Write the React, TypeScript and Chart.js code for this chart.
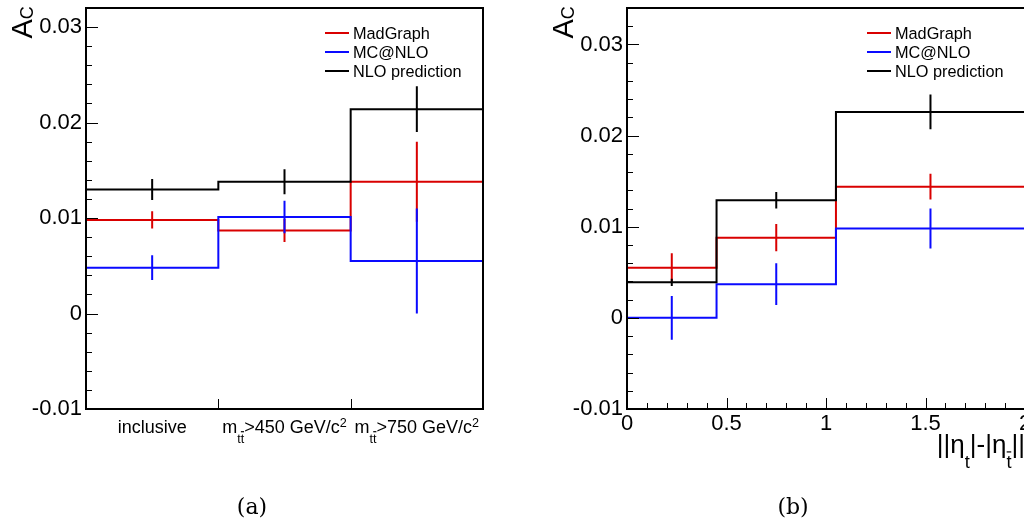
import React, { useEffect, useRef } from 'react';
import { Chart, registerables } from 'chart.js';

Chart.register(...registerables);

const FONT = "'Liberation Sans', Arial, Helvetica, sans-serif";
const SERIF = "'DejaVu Serif', 'Liberation Serif', serif";

// ---------- shared ----------
const seriesNames = ['MadGraph', 'MC@NLO', 'NLO prediction'];
const seriesColors = ['#d90000', '#0a0aff', '#000000'];
const yTitle = 'A_{C}';
const panelLabels = ['(a)', '(b)'];

// ---------- panel (a) ----------
const categoriesA = ['inclusive', 'm_{t#bar{t}}>450 GeV/c^{2}', 'm_{t#bar{t}}>750 GeV/c^{2}'];
const binEdgesA = [0, 1, 2, 3];
const madgraphA = [0.0098, 0.0087, 0.0138];
const madgraphErrA = [0.0009, 0.0012, 0.0042];
const mcatnloA = [0.0048, 0.0101, 0.0055];
const mcatnloErrA = [0.0013, 0.0017, 0.0055];
const nloA = [0.013, 0.0138, 0.0214];
const nloErrA = [0.0011, 0.0013, 0.0024];
const yRangeA = [-0.01, 0.032];
const yTicksA = [-0.01, 0, 0.01, 0.02, 0.03];
const yTickLabelsA = ['-0.01', '0', '0.01', '0.02', '0.03'];

// ---------- panel (b) ----------
const xTitleB = '||η_{t}|-|η_{#bar{t}}||';
const binEdgesB = [0, 0.45, 1.05, 2.0];
const madgraphB = [0.0055, 0.0088, 0.0144];
const madgraphErrB = [0.0016, 0.0015, 0.0014];
const mcatnloB = [0.0, 0.0037, 0.0098];
const mcatnloErrB = [0.0024, 0.0023, 0.0022];
const nloB = [0.0039, 0.0129, 0.0226];
const nloErrB = [0.0004, 0.0009, 0.0019];
const xRangeB = [0, 2.0];
const xTicksB = [0, 0.5, 1, 1.5, 2];
const xTickLabelsB = ['0', '0.5', '1', '1.5', '2'];
const yRangeB = [-0.01, 0.034];
const yTicksB = [-0.01, 0, 0.01, 0.02, 0.03];
const yTickLabelsB = ['-0.01', '0', '0.01', '0.02', '0.03'];

// ---------- tiny ROOT-latex renderer ----------
type Part = { text: string; mode: 'n' | 'sub' | 'sup'; bar: boolean };

function parseLatex(s: string): Part[] {
  const parts: Part[] = [];
  let i = 0;
  let buf = '';
  const flush = () => {
    if (buf) {
      parts.push({ text: buf, mode: 'n', bar: false });
      buf = '';
    }
  };
  while (i < s.length) {
    const ch = s[i];
    if ((ch === '_' || ch === '^') && s[i + 1] === '{') {
      flush();
      let depth = 0;
      let j = i + 1;
      for (; j < s.length; j++) {
        if (s[j] === '{') depth++;
        else if (s[j] === '}') {
          depth--;
          if (depth === 0) break;
        }
      }
      const inner = s.slice(i + 2, j);
      const mode: 'sub' | 'sup' = ch === '_' ? 'sub' : 'sup';
      const re = /#bar\{([^}]*)\}/g;
      let last = 0;
      let m: RegExpExecArray | null;
      while ((m = re.exec(inner))) {
        if (m.index > last) parts.push({ text: inner.slice(last, m.index), mode, bar: false });
        parts.push({ text: m[1], mode, bar: true });
        last = re.lastIndex;
      }
      if (last < inner.length) parts.push({ text: inner.slice(last), mode, bar: false });
      i = j + 1;
    } else {
      buf += ch;
      i++;
    }
  }
  flush();
  return parts;
}

function drawLatex(
  ctx: CanvasRenderingContext2D,
  s: string,
  x: number,
  y: number,
  size: number,
  align: 'left' | 'center' | 'right',
  subShift = 0.55,
  supShift = 0.38,
  scriptScale = 0.7,
  scriptSize?: number
) {
  const parts = parseLatex(s);
  const ss = scriptSize ?? size * scriptScale;
  ctx.textAlign = 'left';
  ctx.textBaseline = 'alphabetic';
  const widths = parts.map((p) => {
    ctx.font = `${p.mode === 'n' ? size : ss}px ${FONT}`;
    return ctx.measureText(p.text).width;
  });
  const total = widths.reduce((a, b) => a + b, 0);
  let cx = align === 'left' ? x : align === 'center' ? x - total / 2 : x - total;
  parts.forEach((p, k) => {
    const fs = p.mode === 'n' ? size : ss;
    const dy = p.mode === 'sub' ? size * subShift : p.mode === 'sup' ? -size * supShift : 0;
    ctx.font = `${fs}px ${FONT}`;
    ctx.fillText(p.text, cx, y + dy);
    if (p.bar) {
      const w = widths[k];
      ctx.beginPath();
      ctx.lineWidth = 1.2;
      ctx.moveTo(cx + w * 0.05, y + dy - fs * 0.86);
      ctx.lineTo(cx + w * 0.95, y + dy - fs * 0.86);
      ctx.stroke();
    }
    cx += widths[k];
  });
}

// ---------- chart builder ----------
type Series = { vals: number[]; errs: number[] };
type PanelCfg = {
  panel: 'a' | 'b';
  edges: number[];
  series: Series[];
  xRange: number[];
  xTicks: number[];
  xTickLabels: string[];
  yRange: number[];
  yTicks: number[];
  yTickLabels: string[];
  chartLeft: number;
  chartRight: number;
  canvasW: number;
  canvasH: number;
  panelLabelX: number;
};

const CHART_TOP = 8;
const CHART_BOTTOM = 409;
const X_AXIS_H = 40;

function makeDecor(cfg: PanelCfg) {
  return {
    id: 'rootDecor' + cfg.panel,
    afterDraw(chart: any) {
      const ctx: CanvasRenderingContext2D = chart.ctx;
      const { left, right, top, bottom } = chart.chartArea;
      const xs = chart.scales.x;
      const ys = chart.scales.y;
      ctx.save();
      ctx.strokeStyle = '#000';
      ctx.fillStyle = '#000';

      // y ticks (major + minor, inside the frame)
      ctx.lineWidth = 1;
      const minorStep = 0.002;
      for (let k = 0; ; k++) {
        const v = cfg.yRange[0] + k * minorStep;
        if (v > cfg.yRange[1] + 1e-9) break;
        const isMajor = cfg.yTicks.some((t) => Math.abs(t - v) < 1e-9);
        const py = Math.round(ys.getPixelForValue(v)) + 0.5;
        ctx.beginPath();
        ctx.moveTo(left, py);
        ctx.lineTo(left + (isMajor ? 12 : 6), py);
        ctx.stroke();
      }

      // x ticks
      if (cfg.panel === 'a') {
        cfg.edges.slice(1, -1).forEach((e) => {
          const px = Math.round(xs.getPixelForValue(e)) + 0.5;
          ctx.beginPath();
          ctx.moveTo(px, bottom);
          ctx.lineTo(px, bottom - 10);
          ctx.stroke();
        });
      } else {
        for (let k = 0; ; k++) {
          const v = cfg.xRange[0] + k * 0.1;
          if (v > cfg.xRange[1] + 1e-9) break;
          const isMajor = cfg.xTicks.some((t) => Math.abs(t - v) < 1e-9);
          const px = Math.round(xs.getPixelForValue(v)) + 0.5;
          ctx.beginPath();
          ctx.moveTo(px, bottom);
          ctx.lineTo(px, bottom - (isMajor ? 11 : 6));
          ctx.stroke();
        }
      }

      // frame
      ctx.lineWidth = 2;
      ctx.strokeRect(left, top, right - left, bottom - top);

      // legend
      seriesNames.forEach((name, i) => {
        const ly = top + 25 + 19 * i;
        ctx.strokeStyle = seriesColors[i];
        ctx.lineWidth = 2;
        ctx.beginPath();
        ctx.moveTo(right - 158, ly);
        ctx.lineTo(right - 134, ly);
        ctx.stroke();
        ctx.fillStyle = '#000';
        ctx.font = `16.3px ${FONT}`;
        ctx.textAlign = 'left';
        ctx.textBaseline = 'alphabetic';
        ctx.fillText(name, right - 130, ly + 6);
      });
      ctx.strokeStyle = '#000';
      ctx.fillStyle = '#000';

      // y-axis title (rotated)
      ctx.save();
      ctx.translate(left - 54.5, 38.5);
      ctx.rotate(-Math.PI / 2);
      drawLatex(ctx, yTitle, 0, 0, 29, 'left', 0.06, 0.38, 0.7, 18);
      ctx.restore();

      // x-axis labels / title
      if (cfg.panel === 'a') {
        categoriesA.forEach((c, k) => {
          const cx = xs.getPixelForValue((cfg.edges[k] + cfg.edges[k + 1]) / 2);
          drawLatex(ctx, c, cx, 433, 18, 'center', 0.53, 0.36);
        });
      } else {
        drawLatex(ctx, xTitleB, right, 452.5, 26, 'right', 0.58, 0.38);
      }

      // panel label
      ctx.font = `22px ${SERIF}`;
      ctx.textAlign = 'center';
      ctx.textBaseline = 'alphabetic';
      ctx.fillText(panelLabels[cfg.panel === 'a' ? 0 : 1], cfg.panelLabelX, 514);

      ctx.restore();
    },
  };
}

function buildChart(canvas: HTMLCanvasElement, cfg: PanelCfg) {
  const datasets: any[] = [];
  cfg.series.forEach((s, i) => {
    const hist = cfg.edges.map((e, k) => ({ x: e, y: s.vals[Math.min(k, s.vals.length - 1)] }));
    datasets.push({
      label: seriesNames[i],
      data: hist,
      stepped: true,
      borderColor: seriesColors[i],
      backgroundColor: seriesColors[i],
      borderWidth: 2,
      pointRadius: 0,
      fill: false,
      tension: 0,
      order: 2 - i,
    });
    const err: any[] = [];
    s.vals.forEach((v, k) => {
      const c = (cfg.edges[k] + cfg.edges[k + 1]) / 2;
      err.push({ x: c, y: v - s.errs[k] }, { x: c, y: v + s.errs[k] }, { x: c, y: null });
    });
    datasets.push({
      label: seriesNames[i] + ' error',
      data: err,
      borderColor: seriesColors[i],
      backgroundColor: seriesColors[i],
      borderWidth: 2,
      pointRadius: 0,
      fill: false,
      spanGaps: false,
      order: 2 - i,
    });
  });

  return new Chart(canvas, {
    type: 'line',
    data: { datasets },
    options: {
      responsive: false,
      animation: false,
      events: [],
      layout: {
        padding: {
          left: 0,
          top: CHART_TOP,
          right: cfg.canvasW - cfg.chartRight,
          bottom: cfg.canvasH - CHART_BOTTOM - X_AXIS_H,
        },
      },
      plugins: { legend: { display: false }, tooltip: { enabled: false } },
      scales: {
        x: {
          type: 'linear',
          min: cfg.xRange[0],
          max: cfg.xRange[1],
          grid: { display: false, drawTicks: false },
          border: { display: false },
          ticks: {
            display: cfg.panel === 'b',
            color: '#000',
            font: { family: FONT, size: 22 },
            padding: 2,
            autoSkip: false,
            maxRotation: 0,
            callback: (_v: any, idx: number) => cfg.xTickLabels[idx],
          },
          afterBuildTicks: (sc: any) => {
            sc.ticks = cfg.xTicks.map((v) => ({ value: v }));
          },
          afterFit: (sc: any) => {
            sc.height = X_AXIS_H;
            sc.paddingLeft = 0;
            sc.paddingRight = 0;
          },
        },
        y: {
          type: 'linear',
          min: cfg.yRange[0],
          max: cfg.yRange[1],
          grid: { display: false, drawTicks: false },
          border: { display: false },
          ticks: {
            color: '#000',
            font: { family: FONT, size: 22 },
            padding: 4,
            autoSkip: false,
            callback: (_v: any, idx: number) => cfg.yTickLabels[idx],
          },
          afterBuildTicks: (sc: any) => {
            sc.ticks = cfg.yTicks.map((v) => ({ value: v }));
          },
          afterFit: (sc: any) => {
            sc.width = cfg.chartLeft;
            sc.paddingTop = 0;
            sc.paddingBottom = 0;
          },
        },
      },
    },
    plugins: [makeDecor(cfg)],
  } as any);
}

export default function App() {
  const refA = useRef<HTMLCanvasElement>(null);
  const refB = useRef<HTMLCanvasElement>(null);

  useEffect(() => {
    if (!refA.current || !refB.current) return;
    const a = buildChart(refA.current, {
      panel: 'a',
      edges: binEdgesA,
      series: [
        { vals: madgraphA, errs: madgraphErrA },
        { vals: mcatnloA, errs: mcatnloErrA },
        { vals: nloA, errs: nloErrA },
      ],
      xRange: [binEdgesA[0], binEdgesA[binEdgesA.length - 1]],
      xTicks: binEdgesA,
      xTickLabels: binEdgesA.map(() => ''),
      yRange: yRangeA,
      yTicks: yTicksA,
      yTickLabels: yTickLabelsA,
      chartLeft: 86,
      chartRight: 483,
      canvasW: 540,
      canvasH: 520,
      panelLabelX: 252,
    });
    const b = buildChart(refB.current, {
      panel: 'b',
      edges: binEdgesB,
      series: [
        { vals: madgraphB, errs: madgraphErrB },
        { vals: mcatnloB, errs: mcatnloErrB },
        { vals: nloB, errs: nloErrB },
      ],
      xRange: xRangeB,
      xTicks: xTicksB,
      xTickLabels: xTickLabelsB,
      yRange: yRangeB,
      yTicks: yTicksB,
      yTickLabels: yTickLabelsB,
      chartLeft: 87,
      chartRight: 485,
      canvasW: 560,
      canvasH: 520,
      panelLabelX: 253,
    });
    return () => {
      a.destroy();
      b.destroy();
    };
  }, []);

  return (
    <div
      style={{
        position: 'fixed',
        left: 0,
        top: 0,
        width: 1024,
        height: 520,
        overflow: 'hidden',
        background: '#fff',
      }}
    >
      <canvas
        ref={refA}
        width={540}
        height={520}
        style={{ position: 'absolute', left: 0, top: 0, width: 540, height: 520 }}
      />
      <canvas
        ref={refB}
        width={560}
        height={520}
        style={{ position: 'absolute', left: 540, top: 0, width: 560, height: 520 }}
      />
    </div>
  );
}
